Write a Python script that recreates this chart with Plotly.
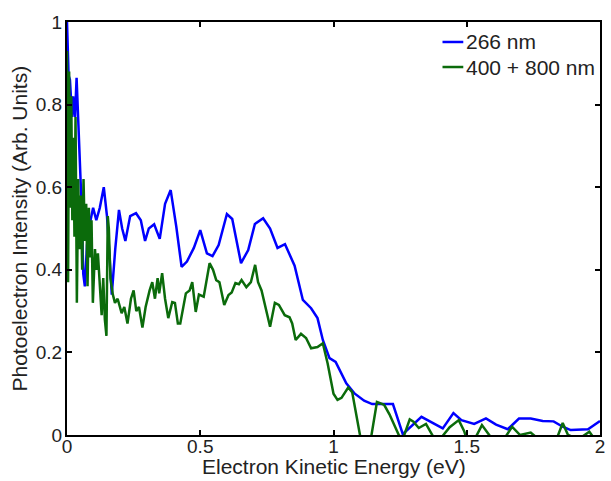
import plotly.graph_objects as go

# 266 nm spectrum
x_266 = [0.0, 0.006, 0.011, 0.019, 0.023, 0.030, 0.036, 0.042, 0.048, 0.055, 0.061, 0.067,
         0.075, 0.085, 0.092, 0.098, 0.110, 0.123, 0.138, 0.150, 0.160, 0.168, 0.181, 0.195,
         0.207, 0.219, 0.237, 0.259, 0.277, 0.293, 0.307, 0.327, 0.348, 0.368, 0.389, 0.410,
         0.430, 0.450, 0.476, 0.500, 0.525, 0.546, 0.569, 0.600, 0.620, 0.653, 0.680, 0.705,
         0.736, 0.762, 0.790, 0.818, 0.854, 0.885, 0.916, 0.940, 0.960, 0.985, 1.008, 1.048,
         1.080, 1.115, 1.145, 1.223, 1.260, 1.330, 1.410, 1.450, 1.480, 1.528, 1.572, 1.610,
         1.654, 1.696, 1.740, 1.785, 1.826, 1.860, 1.890, 1.955, 2.000]
y_266 = [1.0, 0.87, 0.86, 0.77, 0.82, 0.77, 0.865, 0.78, 0.665, 0.55, 0.39, 0.36,
         0.46, 0.51, 0.53, 0.55, 0.52, 0.55, 0.60, 0.53, 0.43, 0.34, 0.45, 0.545,
         0.50, 0.47, 0.53, 0.537, 0.52, 0.47, 0.50, 0.51, 0.475, 0.56, 0.593, 0.505,
         0.407, 0.42, 0.453, 0.496, 0.44, 0.433, 0.46, 0.535, 0.523, 0.416, 0.448, 0.511,
         0.525, 0.50, 0.453, 0.462, 0.41, 0.327, 0.307, 0.283, 0.23, 0.186, 0.177, 0.125,
         0.10, 0.083, 0.075, 0.075, 0.002, 0.044, 0.016, 0.053, 0.036, 0.027, 0.04, 0.025,
         0.014, 0.04, 0.04, 0.034, 0.033, 0.02, 0.012, 0.014, 0.034]

# 400 + 800 nm spectrum
x_400_800 = [0.0, 0.004, 0.008, 0.012, 0.016, 0.020, 0.024, 0.028, 0.032, 0.037, 0.042, 0.047,
             0.052, 0.057, 0.062, 0.067, 0.072, 0.077, 0.082, 0.087, 0.092, 0.097, 0.105, 0.110,
             0.116, 0.122, 0.130, 0.136, 0.142, 0.148, 0.153, 0.157, 0.163, 0.172, 0.180, 0.190,
             0.205, 0.215, 0.227, 0.240, 0.250, 0.260, 0.270, 0.283, 0.295, 0.310, 0.320, 0.330,
             0.340, 0.346, 0.357, 0.368, 0.380, 0.395, 0.405, 0.416, 0.425, 0.446, 0.460, 0.470,
             0.483, 0.495, 0.513, 0.535, 0.548, 0.560, 0.572, 0.590, 0.606, 0.618, 0.632, 0.645,
             0.655, 0.673, 0.690, 0.706, 0.717, 0.730, 0.745, 0.762, 0.780, 0.795, 0.817, 0.835,
             0.845, 0.858, 0.878, 0.897, 0.916, 0.940, 0.960, 0.978, 1.000, 1.015, 1.030, 1.055,
             1.070, 1.105, 1.120, 1.140, 1.163, 1.190, 1.210, 1.245, 1.260, 1.286, 1.300, 1.320,
             1.347, 1.375, 1.400, 1.436, 1.470, 1.490, 1.500, 1.530, 1.557, 1.590, 1.620, 1.645,
             1.670, 1.700, 1.740, 1.760, 1.800, 1.840, 1.860, 1.880, 1.920, 1.960, 1.980, 2.000]
y_400_800 = [0.93, 0.37, 0.88, 0.55, 0.82, 0.52, 0.72, 0.48, 0.77, 0.32, 0.62, 0.45,
             0.58, 0.40, 0.62, 0.47, 0.56, 0.36, 0.55, 0.43, 0.52, 0.32, 0.45, 0.40,
             0.44, 0.36, 0.29, 0.38, 0.28, 0.24, 0.53, 0.50, 0.38, 0.34, 0.32, 0.33,
             0.295, 0.31, 0.27, 0.33, 0.35, 0.30, 0.31, 0.26, 0.31, 0.35, 0.37, 0.33,
             0.38, 0.343, 0.392, 0.33, 0.283, 0.322, 0.32, 0.27, 0.27, 0.343, 0.35, 0.37,
             0.298, 0.34, 0.335, 0.416, 0.40, 0.375, 0.37, 0.315, 0.339, 0.345, 0.368, 0.365,
             0.375, 0.358, 0.37, 0.412, 0.37, 0.35, 0.307, 0.262, 0.32, 0.315, 0.29, 0.285,
             0.27, 0.23, 0.245, 0.235, 0.21, 0.213, 0.222, 0.173, 0.10, 0.085, 0.09, 0.115,
             0.104, -0.02, -0.05, -0.01, 0.08, 0.073, 0.05, 0.0, -0.01, 0.038, 0.032, 0.017,
             0.027, -0.005, -0.01, 0.019, 0.036, 0.01, -0.01, -0.01, 0.024, -0.005, -0.01, -0.005,
             0.02, 0.0, 0.006, -0.005, -0.01, -0.005, 0.029, 0.0, -0.01, 0.008, -0.01, -0.01]

series_names = ["266 nm", "400 + 800 nm"]
series_colors = ["#0000ff", "#0b6b0b"]

x_ticks = [0, 0.5, 1, 1.5, 2]
y_ticks = [0, 0.2, 0.4, 0.6, 0.8, 1]

x_title = "Electron Kinetic Energy (eV)"
y_title = "Photoelectron Intensity (Arb. Units)"

FONT = "Liberation Sans, Arial, sans-serif"
TXT = "#222222"

fig = go.Figure()
for xs, ys, name, col in zip([x_266, x_400_800], [y_266, y_400_800], series_names, series_colors):
    fig.add_trace(go.Scatter(x=xs, y=ys, mode="lines", name=name,
                             line=dict(color=col, width=2.5), showlegend=False))

axis_common = dict(showline=True, linecolor="black", linewidth=2, mirror="ticks",
                   ticks="inside", ticklen=5, tickwidth=1.5, tickcolor="black",
                   showgrid=False, zeroline=False,
                   tickfont=dict(family=FONT, size=19, color=TXT))

fig.update_xaxes(range=[0, 2], tickvals=x_ticks, ticklabelstandoff=-7, **axis_common)
fig.update_yaxes(range=[0, 1], tickvals=y_ticks, ticklabelstandoff=-1, **axis_common)

fig.add_annotation(text=x_title, xref="paper", yref="paper", x=0.5, y=0,
                   xanchor="center", yanchor="top", yshift=-18, showarrow=False,
                   font=dict(family=FONT, size=21, color=TXT))
fig.add_annotation(text=y_title, xref="paper", yref="paper", x=0, y=0.5,
                   xanchor="center", yanchor="middle", xshift=-48, textangle=-90,
                   showarrow=False, font=dict(family=FONT, size=21, color=TXT))

# legend (drawn inside the top-right of the axes, MATLAB style)
legend_rows = [0.9516, 0.891]
for name, col, yr in zip(series_names, series_colors, legend_rows):
    fig.add_shape(type="line", xref="paper", yref="paper",
                  x0=0.7045, x1=0.7435, y0=yr, y1=yr,
                  line=dict(color=col, width=2.5))
    fig.add_annotation(text=name, xref="paper", yref="paper", x=0.7455, y=yr,
                       xanchor="left", yanchor="middle", showarrow=False,
                       font=dict(family=FONT, size=21, color=TXT))

fig.update_layout(
    width=611, height=481,
    margin=dict(l=67, r=6, t=22, b=46),
    plot_bgcolor="white", paper_bgcolor="white",
    showlegend=False,
)

fig.write_html("out.html", config={"displayModeBar": False},
               post_script="document.body.style.margin='0';document.body.style.padding='0';")
